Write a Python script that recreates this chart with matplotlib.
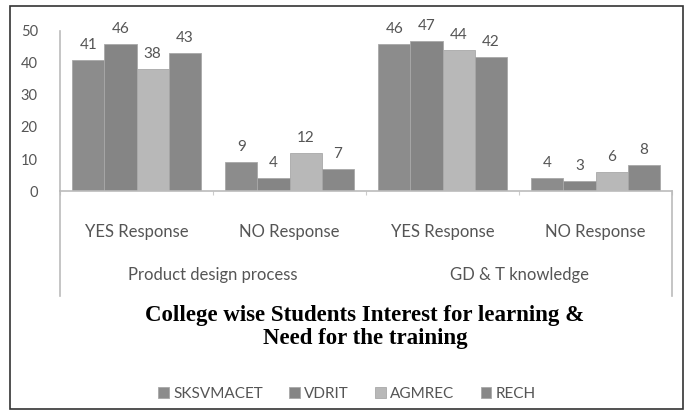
import numpy as np
import matplotlib.pyplot as plt
from matplotlib.patches import Rectangle

# data
categories = ['YES Response', 'NO Response', 'YES Response', 'NO Response']
groups = ['Product design process', 'GD & T knowledge']
colleges = ['SKSVMACET', 'VDRIT', 'AGMREC', 'RECH']
sksvmacet = [41, 9, 46, 4]
vdrit = [46, 4, 47, 3]
agmrec = [38, 12, 44, 6]
rech = [43, 7, 42, 8]
series = [sksvmacet, vdrit, agmrec, rech]
colors = ['#8c8c8c', '#858585', '#b8b8b8', '#888888']

W, H = 686, 411
fig = plt.figure(figsize=(W / 100, H / 100), dpi=100)
fig.patch.set_facecolor('white')

# outer border
fig.patches.append(Rectangle((10 / W, 2 / H), 673 / W, 403 / H, transform=fig.transFigure,
                             fill=False, edgecolor='#333333', linewidth=1.2))

ax = fig.add_axes([60 / W, 1 - 191 / H, 612 / W, 160 / H])
x = np.arange(len(categories))
bw = 0.21
for i, (vals, c) in enumerate(zip(series, colors)):
    pos = x + (i - 1.5) * bw
    bars = ax.bar(pos, vals, width=bw, color=c, edgecolor='#a8a8a8', linewidth=0.6,
                  label=colleges[i], zorder=2)
    for p, v in zip(pos, vals):
        ax.text(p, v + 2.5, str(v), ha='center', va='bottom', fontsize=11,
                color='#555555', family='Lato')

ax.set_xlim(-0.5, 3.5)
ax.set_ylim(0, 50)
ax.set_yticks(np.arange(0, 51, 10))
ax.tick_params(axis='y', length=0, pad=16, labelsize=10.5, labelcolor='#555555')
for lab in ax.get_yticklabels():
    lab.set_family('Lato')
ax.set_xticks(np.arange(-0.5, 3.6, 1))
ax.set_xticklabels([])
ax.tick_params(axis='x', length=3, color='#cccccc', direction='out')
for s in ['top', 'right']:
    ax.spines[s].set_visible(False)
ax.spines['left'].set_color('#bbbbbb')
ax.spines['bottom'].set_color('#bbbbbb')
ax.spines['left'].set_linewidth(1.2)
ax.spines['bottom'].set_linewidth(1.2)

trans = ax.get_xaxis_transform()
for xi, cat in zip(x, categories):
    ax.text(xi, -41 / 160, cat, transform=trans, ha='center', va='center',
            fontsize=12, color='#555555', family='Lato')
for gi, g in enumerate(groups):
    ax.text(gi * 2 + 0.5, -84 / 160, g, transform=trans, ha='center', va='center',
            fontsize=12, color='#555555', family='Lato')
for xv in [-0.5, 3.5]:
    ax.plot([xv, xv], [0, -105 / 160], transform=trans, color='#bbbbbb',
            linewidth=1.2, clip_on=False)

fig.text(365 / W, 1 - 327 / H,
         'College wise Students Interest for learning &\nNeed for the training',
         ha='center', va='center', fontsize=16.5, fontweight='bold',
         family='Liberation Serif', linespacing=1.15)

leg = fig.legend(loc='center', bbox_to_anchor=(347 / W, 1 - 394 / H), ncol=4,
                 frameon=False, handlelength=0.7, handleheight=0.7, handletextpad=0.3,
                 columnspacing=1.7, prop={'family': 'Lato', 'size': 11})
for t in leg.get_texts():
    t.set_color('#555555')

fig.savefig('out.png', dpi=100)
